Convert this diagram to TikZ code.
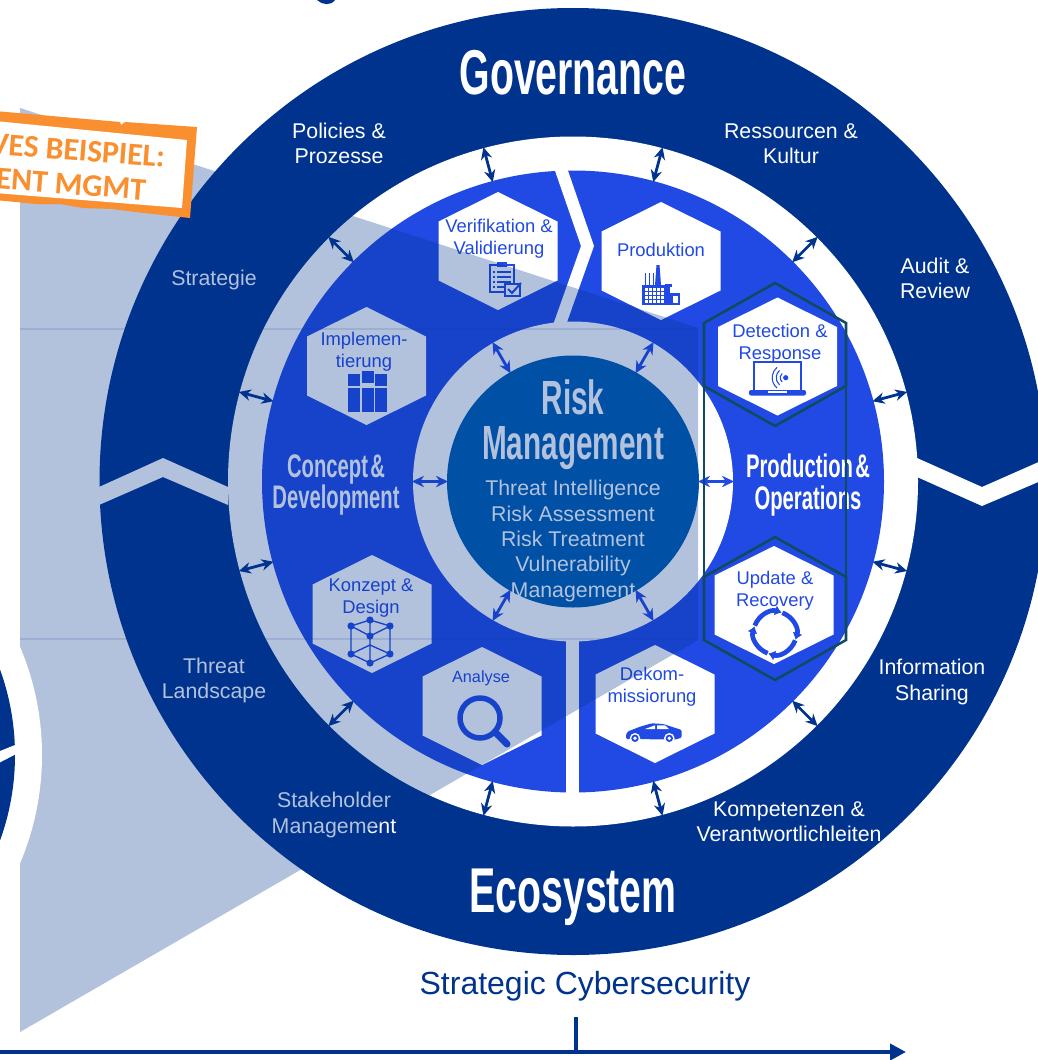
\documentclass[tikz,border=0pt]{standalone}
\usepackage{fontspec}
\usepackage{color}
\usetikzlibrary{arrows.meta}
\setmainfont{Liberation Sans}
\newfontfamily\titlefont[FakeStretch=0.62]{Liberation Sans}
\newfontfamily\stampfont{Carlito}

\definecolor{navyring}{HTML}{00338E}
\definecolor{blueseg}{HTML}{2149E4}
\definecolor{riskdisc}{HTML}{005DB1}
\definecolor{tealline}{HTML}{0E4B5E}
\definecolor{stamporange}{HTML}{F98F2E}

\tikzset{
  ringlabel/.style={text=white,align=center,inner sep=0pt,font=\fontsize{16}{18.8}\selectfont},
  hexlabel/.style={text=blueseg,align=center,inner sep=0pt,font=\fontsize{13.8}{16.8}\selectfont},
  bigtitle/.style={text=white,align=center,inner sep=0pt,font=\titlefont\bfseries\fontsize{47.5}{50}\selectfont},
  segtitle/.style={text=white,align=center,inner sep=0pt,font=\titlefont\bfseries\fontsize{24.5}{23.5}\selectfont},
  ringarrow/.style={<->,>={Stealth[length=9pt,width=8.5pt]},line width=2.1pt,navyring},
  riskarrow/.style={<->,>={Stealth[length=9pt,width=8.5pt]},line width=2.1pt,blueseg},
  hexcell/.pic={\fill[white] (0,-59) -- (59.5,-29.5) -- (59.5,29.5) -- (0,59) -- (-59.5,29.5) -- (-59.5,-29.5) -- cycle;},
  hexline/.pic={\draw[tealline,line width=1.9pt] (0,-71.5) -- (71,-31.5) -- (71,31.5) -- (0,71.5) -- (-71,31.5) -- (-71,-31.5) -- cycle;},
}

\begin{document}
\begin{tikzpicture}[x=0.75pt,y=-0.75pt]
\clip (0,0) rectangle (1038,1060);
\fill[white] (0,0) rectangle (1038,1060);
\coordinate (c) at (573,481.5);

%% rings
\fill[navyring] (c) circle (473.5);
\fill[white] (99,487) -- (163,458) -- (228,487) -- (228,505) -- (163,477) -- (99,505) -- cycle;
\fill[white] (917,458) -- (982,487) -- (1050,457) -- (1050,477) -- (982,506) -- (917,477) -- cycle;
\fill[white] (c) circle (345);
\fill[blueseg] (c) circle (311);
\fill[white] (553,165) -- (566,165) -- (594,246) -- (566,325) -- (553,325) -- (581,246) -- cycle;
\fill[white] (566,630) rectangle (579,795);
\fill[white] (c) circle (160);
\fill[riskdisc] (c) circle (126);

%% arrows
\foreach \a in {15,45,...,345} {
  \path (c) ++(\a:310) coordinate (ringin\a) ++(\a:36) coordinate (ringout\a);
  \draw[ringarrow] (ringin\a) -- (ringout\a);
}
\foreach \a in {0,60,...,300} {
  \path (c) ++(\a:125) coordinate (riskin\a) ++(\a:36) coordinate (riskout\a);
  \draw[riskarrow] (riskin\a) -- (riskout\a);
}

%% hexagons
\foreach \x/\y in {498/251,661/261,777.5/356.5,774/605,655/704,482/706,372/614,366.5/366}
  \pic at (\x,\y) {hexcell};

\node[hexlabel] (verif) at (499,239) {Verifikation \&\\Validierung};
\node[hexlabel] (prod) at (661,250) {Produktion};
\node[hexlabel] (detect) at (780,344) {Detection \&\\Response};
\node[hexlabel] (update) at (775,591) {Update \&\\Recovery};
\node[hexlabel] (dekom) at (652,687) {Dekom-\\missiorung};
\node[hexlabel,font=\fontsize{12.2}{15}\selectfont] (analyse) at (481,678) {Analyse};
\node[hexlabel] (konzept) at (371,598) {Konzept \&\\Design};
\node[hexlabel] (implem) at (364,352) {Implemen-\\tierung};

%% icons
% clipboard
\draw[blueseg,line width=1.2pt,fill=white] (490,265) rectangle (514,292);
\fill[blueseg] (497,262) rectangle (507,267);
\foreach \y in {271,276,281,286} {
  \fill[blueseg] (493,\y) rectangle (495,\y+2);
  \fill[blueseg] (497,\y) rectangle (511,\y+2);
}
\draw[blueseg,line width=1.2pt,fill=white] (505,284) rectangle (520,296);
\draw[blueseg,line width=1.5pt] (508,289) -- (512,293) -- (521,283);
% factory
\fill[blueseg] (642,285) rectangle (670,305);
\fill[blueseg] (662,293) rectangle (680,305);
\fill[blueseg] (656.5,265) -- (659.5,265) -- (661,285) -- (655,285) -- cycle;
\foreach \x in {644.5,648.5,652.5} \fill[blueseg] (\x,273) rectangle (\x+1.6,285);
\fill[blueseg] (665,284) rectangle (672,286.5);
\fill[blueseg] (667,286) rectangle (670,293);
\fill[white] (673,296) rectangle (678,303);
\foreach \x in {645,649,653,657,661} \foreach \y in {288,292,296,300}
  \fill[white] (\x,\y) rectangle (\x+2.6,\y+2.6);
% laptop
\draw[blueseg,line width=1.5pt] (754,391) -- (754,362) -- (801,362) -- (801,391);
\fill[blueseg,rounded corners=1.5pt] (749,390) rectangle (806,395.5);
\fill[white] (768,390.5) rectangle (787,393);
\fill[blueseg] (785.7,377.7) circle (2.6);
\foreach \r in {5.5,9.5,13.5}
  \draw[blueseg,line width=0.8pt] (785.7,377.7) ++(130:\r) arc (130:230:\r);
% recovery ring
\foreach \a in {20,110,200,290}
  \draw[blueseg,line width=3.5pt,-{Latex[length=5pt,width=8pt]}] (775,633) ++(\a:21.5) arc (\a:\a+88:21.5);
% car
\fill[blueseg,rounded corners=1pt] (626,739) -- (626,735) -- (627.3,731.7) -- (640,726.7) -- (651.7,723.3) -- (663.3,724) -- (673.3,727.3) -- (681.7,730) -- (681.7,737.5) -- (676,739.5) -- cycle;
\fill[white] (645,729) -- (655,725.3) -- (655,729) -- cycle;
\fill[white] (657,725.3) -- (665,725.3) -- (669,729) -- (657,729) -- cycle;
\foreach \x in {635,669.3} {
  \fill[white] (\x,738.3) circle (5.3);
  \fill[blueseg] (\x,738.3) circle (3.7);
  \fill[white] (\x,738.3) circle (1.9);
}
% magnifier
\draw[blueseg,line width=4.1pt] (480,718) circle (20);
\draw[blueseg,line width=5.3pt,line cap=round] (495,732) -- (507,744);
% cube
\coordinate (ct) at (370,620); \coordinate (cl) at (351,626); \coordinate (cr) at (390,626);
\coordinate (cm) at (370,636); \coordinate (cu) at (370,645);
\coordinate (bl) at (351,654); \coordinate (br) at (390,654); \coordinate (bt) at (370,663);
\draw[blueseg,line width=1pt] (ct) -- (cl) -- (cm) -- (cr) -- (ct) -- (cm) -- (cu) -- (bt) -- (bl) -- (cu) -- (br) -- (bt) (cl) -- (bl) (cr) -- (br);
\foreach \p in {ct,cl,cr,cm,bl,br,bt}
  \fill[blueseg] (\p) circle (3.6);
% bars
\foreach \x/\w in {348/12,362/12,375/12} \fill[blueseg] (\x,388) rectangle (\x+\w,412);
\foreach \x/\t in {348/374,362/371,375/374} \fill[blueseg] (\x,\t) rectangle (\x+12,\t+12);

%% labels
\node[bigtitle] (gov) at (573,73) {Governance};
\node[bigtitle] (eco) at (573,897) {Ecosystem};
\node[bigtitle,font=\titlefont\bfseries\fontsize{36}{34}\selectfont] (riskmgmt) at (573,425) {Risk\\Management};
\node[segtitle] (concept) at (336,485) {Concept\hspace{.07em}\&\\Development};
\node[segtitle] (oper) at (808,485) {Production\hspace{.07em}\&\\Operations};
\node[ringlabel,font=\fontsize{16}{19.1}\selectfont] (risklist) at (573,541) {Threat Intelligence\\Risk Assessment\\Risk Treatment\\Vulnerability\\Management};
\node[ringlabel] (policies) at (339,143) {Policies \&\\Prozesse};
\node[ringlabel] (ressourcen) at (791,144) {Ressourcen \&\\Kultur};
\node[ringlabel] (audit) at (935,278) {Audit \&\\Review};
\node[ringlabel] (strategie) at (214,280) {Strategie};
\node[ringlabel] (threat) at (214,680.5) {Threat\\Landscape};
\node[ringlabel] (stake) at (334,815) {Stakeholder\\Management};
\node[ringlabel] (info) at (932,682) {Information\\Sharing};
\node[ringlabel] (kompetenz) at (789,822) {Kompetenzen \&\\Verantwortlichleiten};

%% outlined operations
\pic at (775,354.5) {hexline};
\pic at (775,608.5) {hexline};
\draw[tealline,line width=1.9pt] (704,323) -- (704,640) (846,323) -- (846,640);

%% overlay wedge
\fill[navyring,opacity=0.3] (20,108) -- (698,328) -- (698,640) -- (20,1032) -- cycle;
\draw[navyring,opacity=0.12,line width=0.9pt] (20,329) -- (698,329) (20,639) -- (698,639);

%% neighbouring circle
\fill[white] (-235,755) circle (277);
\fill[navyring] (-235,755) circle (250);
\fill[white] (-5,753) -- (20,743) -- (20,752) -- (-5,765) -- cycle;

%% title remainder
\fill[navyring] (317,0) .. controls (322,5) and (331,6) .. (335,0) -- cycle;

%% axis
\coordinate (axisl) at (0,1052);
\coordinate (axisr) at (906,1052);
\coordinate (ticktop) at (576,1017);
\coordinate (tickbot) at (576,1054);
\draw[navyring,line width=3pt,-{Triangle[length=12pt,width=12pt]}] (axisl) -- (axisr);
\draw[navyring,line width=3pt] (ticktop) -- (tickbot);
\node[text=navyring,inner sep=0pt,font=\fontsize{24}{28}\selectfont] (stratcyber) at (585,986) {Strategic Cybersecurity};

%% stamp
\fill[stamporange] (-5,111) -- (120,122) -- (121,125) -- (125,122) -- (197,127) -- (190,218) -- (144,213) -- (112,209) -- (83,208) -- (60,204) -- (36,204) -- (-5,200) -- cycle;
\fill[white] (-5,121) -- (187,140) -- (182,208) -- (-5,193) -- cycle;
\node[anchor=east,rotate=-4.4,text=stamporange,inner sep=0pt,font=\stampfont\bfseries\fontsize{23.7}{26}\selectfont] (stampa) at (165,157) {VES BEISPIEL:};
\node[anchor=east,rotate=-4.4,text=stamporange,inner sep=0pt,font=\stampfont\bfseries\fontsize{23.7}{26}\selectfont] (stampb) at (146,190) {ENT MGMT};
\end{tikzpicture}
\end{document}
